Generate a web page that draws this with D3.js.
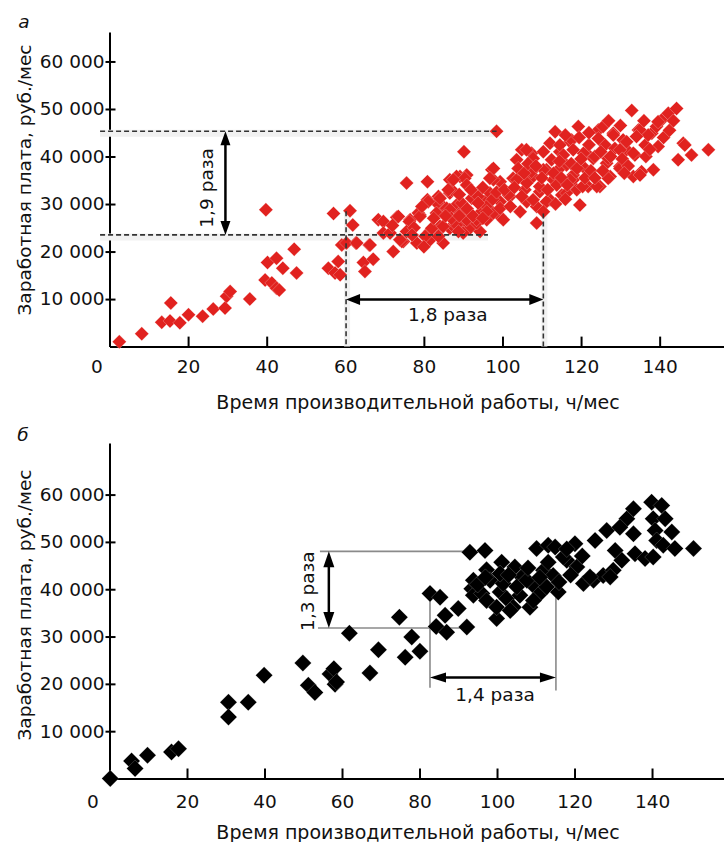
<!DOCTYPE html>
<html><head><meta charset="utf-8">
<script src="https://cdn.jsdelivr.net/npm/d3@7/dist/d3.min.js"></script>
<style>
body{margin:0;background:#fff}
svg{display:block}
text{font-family:"DejaVu Sans",Arial,sans-serif;fill:#111}
</style>
</head><body><svg id="c" width="724" height="842"></svg>
<script>
// ---------- data ----------
const xTicks = [20, 40, 60, 80, 100, 120, 140];
const yTicks = [10000, 20000, 30000, 40000, 50000, 60000];
const yTickLabels = ["10 000", "20 000", "30 000", "40 000", "50 000", "60 000"];
const xTitle = "Время производительной работы, ч/мес";
const yTitle = "Заработная плата, руб./мес";
const panelLabels = ["а", "б"];

// panel a: [hours, wage]
const pointsA = [
[2.5,1000],[8.2,2700],[13.3,5100],[15.4,5400],[15.6,9200],[17.9,5000],[20.1,6700],[23.7,6400],[26.4,7900],[29.4,8100],
[29.8,10600],[30.7,11600],[35.7,10000],[39.8,28800],[40.2,17700],[42.5,18600],[39.6,14000],[41.3,13400],[42.5,12300],[43.2,11900],
[44.1,16500],[47,20500],[47.6,15500],[55.7,16500],[57,28000],[57.4,15500],[58.2,17900],[58.7,15100],[61.2,28600],[61.9,25600],
[59.1,21400],[62.7,21800],[66.1,21400],[64.6,17700],[67.1,18400],[65,15800],[68.4,26700],[60.3,21800],
[69.7,26300],[73.1,27200],[76.5,26700],[79,27700],[75.6,34400],[80.9,34700],[80.9,30900],[83.7,31600],[86.6,32300],[86.6,35100],
[89.2,35800],[90.9,36100],[90.2,41000],[98.5,45300],[97.3,37200],[99.4,34700],[88.3,29800],[84.9,29500],[83.3,30200],[93.4,31600],
[96,30900],[69.7,23900],[74.8,22100],[78.2,21800],[81.5,24200],[84.1,24600],[86.6,24900],[89.2,25600],[91.7,24900],[94.3,24200],
[96,26700],[99.4,27400],[62.9,21800],[66.3,21400],[72.2,20000],[71.4,23900],[73.5,27400],[74.4,22100],[78.6,28100],[81.1,30500],
[81.6,22500],[84.1,25300],[84.9,21800],[85.8,29100],[87.1,33000],[88.3,35800],[87.5,25300],[89.2,28100],[90,23900],[92.2,31200],
[93.4,26000],[94.3,28100],[96,29500],[97.7,35100],[97.7,28100],[99.4,30500],[100.2,26700],[101.9,31600],[102.7,35400],[103.6,39300],
[104.5,28400],[104.9,41400],[105.7,33000],[106.2,30500],[107.4,40700],[107.8,35800],[108.7,26000],[108.7,29500],[109.5,32600],[110.4,41000],
[111.2,37200],[112.1,30900],[112.9,35100],[113.4,45200],[114.6,41000],[115.1,31900],[116.3,38200],[117.2,43100],[118,35100],[118.9,33000],
[119.3,46300],[119.7,29800],[121.4,40700],[121.8,33700],[123.1,39600],[124.4,45600],[124.8,33700],[126.1,42400],[126.5,38600],[127.4,35800],
[128.2,44900],[128.6,41700],[129.9,37900],[130.7,43500],[131.6,41400],[132.9,49700],[133.7,40300],[133.3,35800],[134.6,45600],[135.4,36800],
[136.3,42400],[138,44900],[138.4,37200],[139.2,46300],[139.6,42100],[140.5,47700],[142.2,49100],[144.3,50100],[144.7,39300],[146,42800],
[148.1,40300],[152.4,41400],
[139.6,47300],[135,45600],[137.1,44500],[134.1,44200],[125.6,46300],[128.2,44500],[124.4,43800],[117.6,43500],[112.1,42800],[114.6,42400],
[131.6,43100],[146.4,42400],[133.3,40700],[129.9,41400],[126.9,39600],[123.5,40000],[120.6,40700],[118,41400],[115.5,40300],[106.1,41400],
[107.8,39600],[112.5,39300],[129.9,37500],[135,36100],[126.9,35400],[121,37500],[118,36100],[114.2,37200],[110.4,37200],[107.4,36800],
[104.5,35800],[97.7,37500],[96.8,35400],[90.4,35400],[87.5,35100],[90.9,34000],[86.2,33000],[84.1,31200],[89.6,30200],[93.8,31600],
[96.8,32300],[103.6,35100],[106.2,34400],[109.5,33700],[113.8,34000],[117.2,35100],[120.4,33700],[124,33700],[101.5,31900],[104.9,31600],
[107.8,30900],[111.2,30500],[116.3,32300],[99.4,29100],[96,28400],[93.8,30200],[86.6,28800],[83.2,28100],[79,27400],[76.3,26300],
[90.9,26700],[93.4,26700],[82,24900],[84.9,25300],[88.3,25600],[75.6,24200],[73.9,22500],[80.3,23200],[83.7,23200],[88.8,24200],
[110.4,28400],[113.5,30000],[116,31000],
[87,27000],[89,27500],[91,29000],[92.5,27500],[95,27000],[97.5,31000],[98.5,32500],[95,33500],[92,33000],[89,32000],
[100.5,33000],[102,29500],[103,33500],[104,37500],[105.5,36500],[106.5,38500],[108.5,38000],[110,35500],[111.5,33000],[113,36500],
[114.5,39000],[115,35500],[116.5,34000],[117.5,38500],[119,37500],[120,39500],[121,35500],[122.5,37000],[123.5,35500],[125.5,37000],
[125,41000],[122,42500],[119.5,44000],[116,44500],[127.5,40000],[130.5,39500],[132,38000],[131,36500],[136.5,40000],[137.5,41500],
[141,44000],[142.5,45500],[143.5,47500],[136,47500],[130,46500],[127,47500],[122,45000],
[72,25500],[77.5,25000],[79.5,29500],[82.5,27000],[85.5,27500],[77,23500],[80,21000]
];

// panel б: [hours, wage]
const pointsB = [
[0.2,0],[5.7,3700],[6.6,2100],[9.8,4900],[16,5600],[17.8,6300],[30.7,16100],[30.7,13000],[35.8,16100],[39.9,21800],
[49.9,24400],[51.3,19700],[53,18200],[56.9,22100],[57.9,23200],[58.2,19900],[58.6,20400],[61.9,30700],[69.4,27200],[67.2,22300],
[74.8,34100],[76.3,25600],[78,29900],[80.1,26900],[82.7,39100],[85.3,38300],[84.3,32100],[86.6,34500],[87,30900],[90,35900],
[92.2,32000],[93,47800],[96.9,48200],[93.5,40100],[93.9,38700],[97.3,44100],[96.1,39100],[97.3,37600],[99.9,33800],[101.2,45700],
[100.8,39400],[102.5,38000],[104.6,44700],[104.2,36200],[106.4,42600],[105.9,38700],[108.5,36200],[109.4,40800],[110.2,48600],[113.2,49300],
[115,48900],[112,44000],[113.2,45700],[111.1,39100],[114.5,42900],[115.8,39400],[118,46100],[120.1,49600],[120.6,44700],[122.3,41200],
[124.9,41900],[125.3,50300],[128.3,52400],[127.4,42900],[130,44000],[130.5,48200],[132.2,46100],[133.5,54900],[135.2,57000],[135.2,51700],
[135.6,47500],[138.2,46500],[139.9,58400],[142.5,57700],[140.3,54900],[143.4,54900],[140.8,52400],[141.2,50300],[145.1,52100],[142.9,49300],
[145.9,48600],[140.3,46800],[150.7,48600],[131.7,53100],[98.2,41900],[101.6,41200],[105.1,40500],[107.7,41900],[109.4,37600],[112.8,40500],
[99.9,36200],[103.4,35500],[93.9,41900],[124,42600],[129.2,42600],[117.1,46800],[100.8,43300],
[95,41000],[97,42500],[103,43000],[108,44500],[111,42500],[116,41500],[119,43000],[118,48500],[122,47000]
];

// annotations (data units)
const dashHA = [[-2.4, 98.5, 45300], [-2.4, 96.3, 23500]];   // [x1, x2, y]
const dashVA = [[60.2, 28500], [110.4, 28000]];             // [x, yTop] down to 0
const arrowVA = [29.5, 45300, 23500];                        // [x, y1, y2]
const arrowHA = [9900, 60.2, 110.4];                         // [y, x1, x2]
const labelsA = [["1,9 раза", 24.6, 33400, -90], ["1,8 раза", 86.1, 6700, 0]];

const lineHB = [[54.3, 92.3, 48000], [53.8, 91.7, 31800]];
const lineVB = [[82.7, 38100, 19200], [115.2, 39100, 18600]];
const arrowVB = [56.6, 48000, 31800];
const arrowHB = [21350, 82.7, 115.2];
const labelsB = [["1,3 раза", 51, 39600, -90], ["1,4 раза", 99.5, 17650, 0]];

// ---------- drawing ----------
const svg = d3.select("#c");
const FS = 18.5;
const FT = 19;
const FF = '"DejaVu Sans",Arial,sans-serif';

function diamond(h){ return `M0,${-h}L${h},0L0,${h}L${-h},0Z`; }

function panel(cfg){
  const g = svg.append("g");
  const x = d3.scaleLinear().domain(cfg.xDom).range(cfg.xRange);
  const y = d3.scaleLinear().domain(cfg.yDom).range(cfg.yRange);

  const ya = g.append("g").attr("transform", `translate(${cfg.xRange[0]},0)`)
    .call(d3.axisLeft(y).tickValues(yTicks).tickFormat((d,i)=>yTickLabels[i])
      .tickSizeInner(-6).tickSizeOuter(0).tickPadding(5));
  ya.select(".domain").attr("stroke","#000").attr("stroke-width",2);
  ya.selectAll(".tick line").attr("x1",-4).attr("stroke","#000").attr("stroke-width",2);
  ya.selectAll(".tick text").attr("font-size",FS).attr("fill","#111").style("font-family",FF);

  const xa = g.append("g").attr("transform", `translate(0,${cfg.yRange[0]})`)
    .call(d3.axisBottom(x).tickValues(xTicks).tickSizeInner(-10).tickSizeOuter(0).tickPadding(cfg.xPad));
  xa.select(".domain").attr("stroke","#000").attr("stroke-width",2);
  xa.selectAll(".tick line").attr("stroke","#000").attr("stroke-width",2);
  xa.selectAll(".tick text").attr("font-size",FS).attr("fill","#111").style("font-family",FF);
  g.append("text").attr("x", x(0) - cfg.zeroShift).attr("y", cfg.yRange[0] + cfg.xPad)
    .attr("dy","0.71em").attr("text-anchor","middle").attr("font-size",FS).text("0");

  g.append("text").attr("x", cfg.xTitlePos[0]).attr("y", cfg.xTitlePos[1])
    .attr("text-anchor","middle").attr("dominant-baseline","central").attr("font-size",FT).text(xTitle);
  g.append("text").attr("transform", `translate(${cfg.yTitlePos[0]},${cfg.yTitlePos[1]}) rotate(-90)`)
    .attr("text-anchor","middle").attr("dominant-baseline","central").attr("font-size",FS).text(yTitle);
  g.append("text").attr("x", cfg.tagPos[0]).attr("y", cfg.tagPos[1])
    .attr("text-anchor","middle").attr("dominant-baseline","central").attr("font-size",FS)
    .attr("font-style","italic").text(cfg.tag);

  return {g, x, y};
}

function arrowHead(g, px, py, dir, len, wid){
  const c = Math.cos(dir), s = Math.sin(dir);
  const bx = px - c*len, by = py - s*len;
  const p = [[px,py],[bx - s*wid/2, by + c*wid/2],[bx + s*wid/2, by - c*wid/2]];
  g.append("path").attr("d", "M"+p.map(q=>q.join(",")).join("L")+"Z").attr("fill","#000");
}
function dblArrow(g, x1, y1, x2, y2, len, wid, sw){
  const a = Math.atan2(y2-y1, x2-x1);
  const c = Math.cos(a), s = Math.sin(a);
  g.append("line").attr("x1", x1 + c*len*0.8).attr("y1", y1 + s*len*0.8)
    .attr("x2", x2 - c*len*0.8).attr("y2", y2 - s*len*0.8)
    .attr("stroke","#000").attr("stroke-width",sw);
  arrowHead(g, x2, y2, a, len, wid);
  arrowHead(g, x1, y1, a + Math.PI, len, wid);
}
function label(g, t, px, py, rot){
  g.append("text").attr("transform", `translate(${px},${py}) rotate(${rot})`)
    .attr("text-anchor","middle").attr("dominant-baseline","central").attr("font-size",FS).text(t);
}

// ---- panel a ----
const A = panel({xDom:[0,156.5], xRange:[109.5,724.5], yDom:[0,66200], yRange:[346.6,32],
  xPad:13, zeroShift:12.5, xTitlePos:[418,402], yTitlePos:[24,180], tagPos:[24,21], tag:panelLabels[0]});

const gA = A.g.append("g");
dashHA.forEach(d=>{
  gA.append("line").attr("x1",A.x(d[0])).attr("x2",A.x(d[1])).attr("y1",A.y(d[2])+2).attr("y2",A.y(d[2])+2)
    .attr("stroke","#f1f1f1").attr("stroke-width",7);
});
dashVA.forEach(d=>{
  gA.append("line").attr("x1",A.x(d[0])+1).attr("x2",A.x(d[0])+1).attr("y1",A.y(d[1])).attr("y2",A.y(0))
    .attr("stroke","#f1f1f1").attr("stroke-width",6);
});
A.g.append("g").selectAll("path").data(pointsA).join("path")
  .attr("transform", d=>`translate(${A.x(d[0])},${A.y(d[1])})`)
  .attr("d", diamond(7)).attr("fill","#e1221f").attr("stroke","rgba(255,255,255,0.35)").attr("stroke-width",0.7);
dashHA.forEach(d=>{
  A.g.append("line").attr("x1",A.x(d[0])).attr("x2",A.x(d[1])).attr("y1",A.y(d[2])).attr("y2",A.y(d[2]))
    .attr("stroke","#333").attr("stroke-width",1.6).attr("stroke-dasharray","5,3");
});
dashVA.forEach(d=>{
  A.g.append("line").attr("x1",A.x(d[0])).attr("x2",A.x(d[0])).attr("y1",A.y(d[1])).attr("y2",A.y(0))
    .attr("stroke","#333").attr("stroke-width",1.6).attr("stroke-dasharray","5,3");
});
dblArrow(A.g, A.x(arrowVA[0]), A.y(arrowVA[1]), A.x(arrowVA[0]), A.y(arrowVA[2]), 14, 10, 2.5);
dblArrow(A.g, A.x(arrowHA[1]), A.y(arrowHA[0]), A.x(arrowHA[2]), A.y(arrowHA[0]), 14, 11, 2.5);
labelsA.forEach(l=>label(A.g, l[0], A.x(l[1]), A.y(l[2]), l[3]));

// ---- panel б ----
const B = panel({xDom:[0,158.7], xRange:[109.5,724.5], yDom:[0,70900], yRange:[778.5,443],
  xPad:16, zeroShift:16.5, xTitlePos:[418,832], yTitlePos:[24,605], tagPos:[23,434], tag:panelLabels[1]});

lineHB.forEach(d=>{
  B.g.append("line").attr("x1",B.x(d[0])).attr("x2",B.x(d[1])).attr("y1",B.y(d[2])).attr("y2",B.y(d[2]))
    .attr("stroke","#8a8a8a").attr("stroke-width",1.6);
});
lineVB.forEach(d=>{
  B.g.append("line").attr("x1",B.x(d[0])).attr("x2",B.x(d[0])).attr("y1",B.y(d[1])).attr("y2",B.y(d[2]))
    .attr("stroke","#8a8a8a").attr("stroke-width",1.6);
});
B.g.append("g").selectAll("path").data(pointsB).join("path")
  .attr("transform", d=>`translate(${B.x(d[0])},${B.y(d[1])})`)
  .attr("d", diamond(8.5)).attr("fill","#000").attr("stroke","rgba(255,255,255,0.3)").attr("stroke-width",0.6);
dblArrow(B.g, B.x(arrowVB[0]), B.y(arrowVB[1]), B.x(arrowVB[0]), B.y(arrowVB[2]), 16, 11, 2.5);
dblArrow(B.g, B.x(arrowHB[1]), B.y(arrowHB[0]), B.x(arrowHB[2]), B.y(arrowHB[0]), 16, 10, 2.5);
labelsB.forEach(l=>label(B.g, l[0], B.x(l[1]), B.y(l[2]), l[3]));
</script>
</body></html>
